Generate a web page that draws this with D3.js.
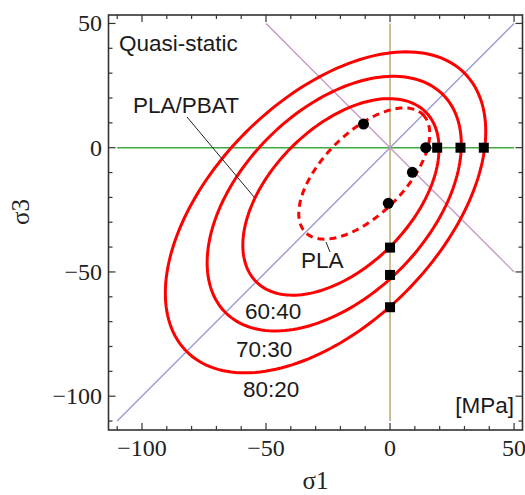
<!DOCTYPE html>
<html>
<head>
<meta charset="utf-8">
<script src="https://cdn.jsdelivr.net/npm/d3@7"></script>
<style>
  html, body { margin: 0; padding: 0; background: #fff; }
  svg { display: block; }
</style>
</head>
<body>
<div id="chart"></div>
<script>
// ---------------- data ----------------
const xTicks = [-100, -50, 0, 50];
const yTicks = [-100, -50, 0, 50];
const minorTicks = [-110, -100, -90, -80, -70, -60, -50, -40, -30, -20, -10, 0, 10, 20, 30, 40, 50];

// failure ellipses (centre on the σ1 = σ3 diagonal, semi-axes along / across it)
const curveNames   = ["60:40", "70:30", "80:20", "PLA"];
const curveCenter  = [-19.8, -22.5, -26.0, -10.4];
const curveAxisA   = [48.3, 62.0, 79.2, 33.5];   // along diagonal
const curveAxisB   = [28.2, 37.5, 45.5, 16.5];   // across diagonal
const curveDashed  = [false, false, false, true];

// PLA/PBAT blend measurements (squares)
const blendTension     = [19.0, 28.4, 37.8];   // on σ1 axis
const blendCompression = [-40.2, -51.2, -64.2]; // on σ3 axis

// PLA measurements (circles)
const plaS1 = [14.4, 9.0, -0.7, -10.7];
const plaS3 = [0.0, -9.9, -22.4, 9.5];

// guide lines [x1, y1, x2, y2] in stress units
const guideNames = ["sigma3zero", "sigma1zero", "equibiaxial", "shear"];
const guideX1 = [-110, 0, -110, -50];
const guideY1 = [0, -110, -110, 50];
const guideX2 = [50, 0, 50, 50];
const guideY2 = [0, 50, 50, -50];
const guideColors = ["#3fa83f", "#b3a466", "#9a9ad6", "#c49ac4"];

// ---------------- layout ----------------
const W = 525, H = 495;
const plot = { left: 108.5, right: 522.5, top: 15, bottom: 430 };

const x = d3.scaleLinear().domain([-113.5, 53.4]).range([plot.left, plot.right]);
const y = d3.scaleLinear().domain([-113.6, 53.4]).range([plot.bottom, plot.top]);

const svg = d3.select("#chart").append("svg")
  .attr("width", W).attr("height", H);

const g = svg.append("g");

// guide lines
guideNames.forEach((n, i) => {
  g.append("line")
    .attr("x1", x(guideX1[i])).attr("y1", y(guideY1[i]))
    .attr("x2", x(guideX2[i])).attr("y2", y(guideY2[i]))
    .attr("stroke", guideColors[i]).attr("stroke-width", 1.4);
});

// ellipses
const line = d3.line().x(d => x(d[0])).y(d => y(d[1])).curve(d3.curveLinearClosed);
curveNames.forEach((n, i) => {
  const pts = d3.range(0, 360, 2).map(deg => {
    const t = deg * Math.PI / 180;
    const u = curveAxisA[i] * Math.cos(t), v = curveAxisB[i] * Math.sin(t);
    return [curveCenter[i] + (u + v) / Math.SQRT2, curveCenter[i] + (u - v) / Math.SQRT2];
  });
  g.append("path").attr("d", line(pts))
    .attr("fill", "none").attr("stroke", "#ff0000")
    .attr("stroke-width", 3)
    .attr("stroke-dasharray", curveDashed[i] ? "7,5" : null);
});

// leader lines
g.append("line").attr("x1", 187).attr("y1", 117).attr("x2", 254).attr("y2", 197)
  .attr("stroke", "#222").attr("stroke-width", 1);
g.append("line").attr("x1", 326).attr("y1", 242).attr("x2", 330).attr("y2", 252)
  .attr("stroke", "#222").attr("stroke-width", 1);

// squares
const sq = 10;
blendTension.forEach(v => {
  g.append("rect").attr("x", x(v) - sq/2).attr("y", y(0) - sq/2)
    .attr("width", sq).attr("height", sq).attr("fill", "#000");
});
blendCompression.forEach(v => {
  g.append("rect").attr("x", x(0) - sq/2).attr("y", y(v) - sq/2)
    .attr("width", sq).attr("height", sq).attr("fill", "#000");
});
// circles
plaS1.forEach((v, i) => {
  g.append("circle").attr("cx", x(v)).attr("cy", y(plaS3[i])).attr("r", 5.5).attr("fill", "#000");
});

// frame
const frameColor = "#333";
svg.append("rect")
  .attr("x", plot.left).attr("y", plot.top)
  .attr("width", plot.right - plot.left).attr("height", plot.bottom - plot.top)
  .attr("fill", "none").attr("stroke", frameColor).attr("stroke-width", 1.6);

// ticks on all sides, pointing inward
const tickG = svg.append("g").attr("stroke", frameColor).attr("stroke-width", 1.2);
minorTicks.forEach(v => {
  const len = (v % 50 === 0) ? 7 : 4;
  tickG.append("line").attr("x1", x(v)).attr("x2", x(v)).attr("y1", plot.bottom).attr("y2", plot.bottom - len);
  tickG.append("line").attr("x1", x(v)).attr("x2", x(v)).attr("y1", plot.top).attr("y2", plot.top + len);
  tickG.append("line").attr("y1", y(v)).attr("y2", y(v)).attr("x1", plot.left).attr("x2", plot.left + len);
  tickG.append("line").attr("y1", y(v)).attr("y2", y(v)).attr("x1", plot.right).attr("x2", plot.right - len);
});

const fmt = v => v < 0 ? "\u2212" + Math.abs(v) : String(v);
const serif = "'Liberation Serif', 'DejaVu Serif', serif";
const sans = "'Liberation Sans', Arial, sans-serif";

xTicks.forEach(v => {
  svg.append("text").attr("x", x(v)).attr("y", 456)
    .attr("text-anchor", "middle").attr("font-family", serif).attr("font-size", 24)
    .attr("fill", "#222").text(fmt(v));
});
yTicks.forEach(v => {
  svg.append("text").attr("x", 102).attr("y", y(v)).attr("dy", "0.33em")
    .attr("text-anchor", "end").attr("font-family", serif).attr("font-size", 24)
    .attr("fill", "#222").text(fmt(v));
});

// axis titles
svg.append("text").attr("x", (plot.left + plot.right) / 2).attr("y", 489)
  .attr("text-anchor", "middle").attr("font-family", serif).attr("font-size", 25)
  .attr("fill", "#222").text("\u03c31");
svg.append("text")
  .attr("transform", `translate(29, 212) rotate(-90)`)
  .attr("text-anchor", "middle").attr("font-family", serif).attr("font-size", 25)
  .attr("fill", "#222").text("\u03c33");

// in-plot labels
const labels = [
  { t: "Quasi-static", x: 119, y: 51, a: "start" },
  { t: "PLA/PBAT", x: 133, y: 113, a: "start" },
  { t: "PLA", x: 301, y: 268, a: "start" },
  { t: curveNames[0], x: 245, y: 319, a: "start" },
  { t: curveNames[1], x: 236, y: 357, a: "start" },
  { t: curveNames[2], x: 243, y: 397, a: "start" },
  { t: "[MPa]", x: 514, y: 413, a: "end" }
];
labels.forEach(l => {
  svg.append("text").attr("x", l.x).attr("y", l.y).attr("text-anchor", l.a)
    .attr("font-family", sans).attr("font-size", 22.5).attr("fill", "#1a1a1a").text(l.t);
});
</script>
</body>
</html>
